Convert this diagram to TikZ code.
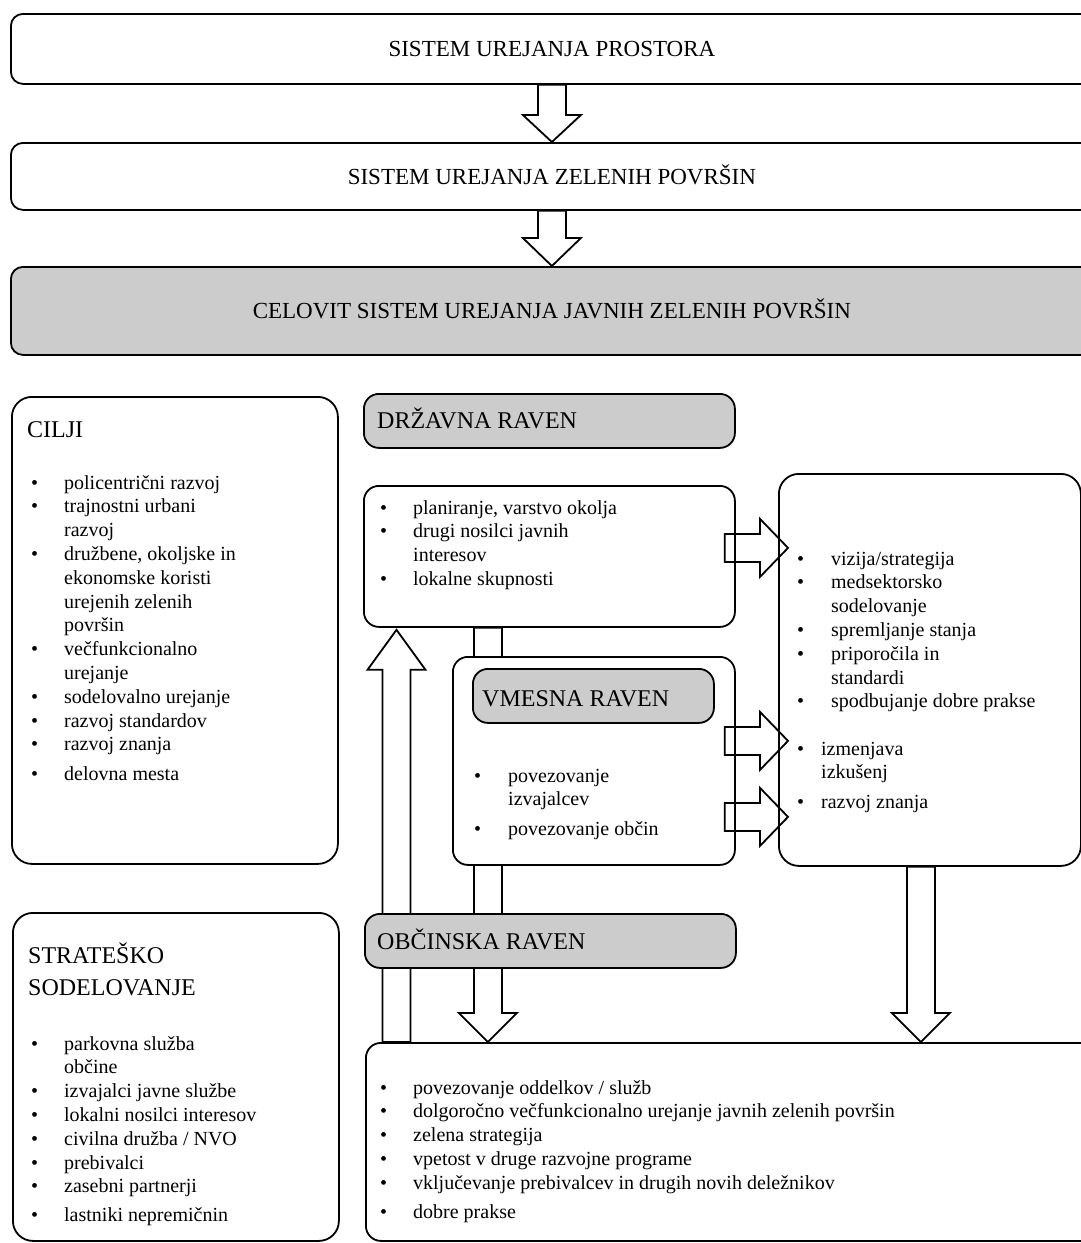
\documentclass[tikz,border=0pt]{standalone}
\usepackage{fontspec}
\setmainfont{Liberation Serif}
\usetikzlibrary{calc}

\definecolor{levelgray}{gray}{0.8}

% block arrow: [head length]{style}{from}{to}
\newcommand{\blockarrow}[4][28pt]{%
  \coordinate (ba-a) at #3;
  \coordinate (ba-b) at #4;
  \coordinate (ba-c) at ($(ba-b)!#1!(ba-a)$);
  \draw[#2] ($(ba-a)!14pt!90:(ba-b)$) -- ($(ba-c)!14pt!90:(ba-b)$)
    -- ($(ba-c)!29pt!90:(ba-b)$) -- (ba-b)
    -- ($(ba-c)!29pt!-90:(ba-b)$) -- ($(ba-c)!14pt!-90:(ba-b)$)
    -- ($(ba-a)!14pt!-90:(ba-b)$) -- cycle;
}
\newcommand{\bul}{\textbullet}

\tikzset{
  box/.style={draw, line width=1.8pt, rounded corners=15pt, inner sep=0pt, anchor=north west},
  dims/.style 2 args={minimum width=#1pt, minimum height=#2pt},
  titlebox/.style={box, rounded corners=12pt, text height=15.5pt, text depth=0pt,
    font=\fontsize{23pt}{27pt}\selectfont},
  levelbox/.style={box, fill=levelgray},
  leveltext/.style={anchor=base west, inner sep=0pt, font=\fontsize{24pt}{28pt}\selectfont},
  headtext/.style={anchor=base west, inner sep=0pt, font=\fontsize{24pt}{32pt}\selectfont},
  listtext/.style={anchor=base west, inner sep=0pt, font=\fontsize{20pt}{23.8pt}\selectfont},
  arrowline/.style={draw, line width=1.8pt, line join=miter}
}

\begin{document}
\begin{tikzpicture}[x=1pt, y=-1pt]
  \useasboundingbox (0,0) rectangle (1081,1243);

  % top chain
  \node[titlebox, dims={1082}{70}] (sup) at (10,13) {SISTEM UREJANJA PROSTORA};
  \node[titlebox, dims={1082}{67}] (szp) at (10,142) {SISTEM UREJANJA ZELENIH POVRŠIN};
  \node[titlebox, fill=levelgray, dims={1082}{88}] (csu) at (10,266)
    {CELOVIT SISTEM UREJANJA JAVNIH ZELENIH POVRŠIN};

  % boxes
  \node[box, rounded corners=20pt, dims={326}{467}] (cilji) at (11,396) {};
  \node[box, rounded corners=20pt, dims={326}{328}] (strat) at (12,912) {};
  \node[levelbox, dims={371}{54}] (drz) at (363,393) {};
  \node[box, dims={371}{141}] (plan) at (363,485) {};
  \node[box, rounded corners=20pt, dims={302}{392}] (smer) at (778,473) {};
  \node[box, dims={730}{198}] (obcl) at (365,1042) {};

  % long arrows, partly hidden
  \coordinate (midtop) at ($(plan.south)+(-61.5,0)$);
  \coordinate (lefttop) at ($(plan.south west)+(33.5,2)$);
  \coordinate (rightbot) at ($(smer.south)+(-9,0)$);
  \blockarrow[29pt]{arrowline, fill=white}{(midtop)}{(midtop |- obcl.north)}
  \blockarrow[40pt]{arrowline, fill=white}{(lefttop |- obcl.north)}{(lefttop)}

  \node[box, fill=white, dims={282}{208}] (vmes) at (452,656) {};
  \node[levelbox, dims={241}{54}] (vmr) at (472,668) {};
  \node[levelbox, dims={371}{54}] (obc) at (364,913) {};

  % arrows
  \blockarrow[27pt]{arrowline}{(sup.south)}{(szp.north)}
  \blockarrow[28pt]{arrowline}{(szp.south)}{(csu.north)}
  \blockarrow{arrowline}{($(plan.east)+(-11,-8.5)$)}{($(plan.east -| smer.west)+(10,-8.5)$)}
  \blockarrow{arrowline}{($(vmes.east)+(-11,-20)$)}{($(vmes.east -| smer.west)+(10,-20)$)}
  \blockarrow{arrowline}{($(vmes.east)+(-11,56)$)}{($(vmes.east -| smer.west)+(10,56)$)}
  \blockarrow[29pt]{arrowline}{(rightbot)}{(rightbot |- obcl.north)}

  % level labels
  \node[leveltext] (drzt) at (377,428) {DRŽAVNA RAVEN};
  \node[leveltext] (vmrt) at (482,706) {VMESNA RAVEN};
  \node[leveltext] (obct) at (377,949) {OBČINSKA RAVEN};

  % texts
  \node[headtext] (cilt) at (27,437) {CILJI};
  \node[listtext] (cilist) at (31,489) {\begin{tabular}[t]{@{}p{33pt}@{}l@{}}
    \bul & policentrični razvoj\\
    \bul & trajnostni urbani\\
         & razvoj\\
    \bul & družbene, okoljske in\\
         & ekonomske koristi\\
         & urejenih zelenih\\
         & površin\\
    \bul & večfunkcionalno\\
         & urejanje\\
    \bul & sodelovalno urejanje\\
    \bul & razvoj standardov\\
    \bul & razvoj znanja\\[6pt]
    \bul & delovna mesta
  \end{tabular}};

  \node[headtext] (stt) at (28,963) {\begin{tabular}[t]{@{}l@{}}
    STRATEŠKO\\
    SODELOVANJE
  \end{tabular}};
  \node[listtext] (stlist) at (31,1050) {\begin{tabular}[t]{@{}p{33pt}@{}l@{}}
    \bul & parkovna služba\\
         & občine\\
    \bul & izvajalci javne službe\\
    \bul & lokalni nosilci interesov\\
    \bul & civilna družba / NVO\\
    \bul & prebivalci\\
    \bul & zasebni partnerji\\[5pt]
    \bul & lastniki nepremičnin
  \end{tabular}};

  \node[listtext] (planlist) at (380,514) {\begin{tabular}[t]{@{}p{33pt}@{}l@{}}
    \bul & planiranje, varstvo okolja\\
    \bul & drugi nosilci javnih\\
         & interesov\\
    \bul & lokalne skupnosti
  \end{tabular}};

  \node[listtext] (vmlist) at (474,782) {\begin{tabular}[t]{@{}p{34pt}@{}l@{}}
    \bul & povezovanje\\
         & izvajalcev\\[6pt]
    \bul & povezovanje občin
  \end{tabular}};

  \node[listtext] (smlist) at (797,565) {\begin{tabular}[t]{@{}p{34pt}@{}l@{}}
    \bul & vizija/strategija\\
    \bul & medsektorsko\\
         & sodelovanje\\
    \bul & spremljanje stanja\\
    \bul & priporočila in\\
         & standardi\\
    \bul & spodbujanje dobre prakse
  \end{tabular}};
  \node[listtext] (smlist2) at (797,755) {\begin{tabular}[t]{@{}p{24pt}@{}l@{}}
    \bul & izmenjava\\
         & izkušenj\\[6pt]
    \bul & razvoj znanja
  \end{tabular}};

  \node[listtext] (oblist) at (380,1094) {\begin{tabular}[t]{@{}p{33pt}@{}l@{}}
    \bul & povezovanje oddelkov / služb\\
    \bul & dolgoročno večfunkcionalno urejanje javnih zelenih površin\\
    \bul & zelena strategija\\
    \bul & vpetost v druge razvojne programe\\
    \bul & vključevanje prebivalcev in drugih novih deležnikov\\[5pt]
    \bul & dobre prakse
  \end{tabular}};
\end{tikzpicture}
\end{document}
